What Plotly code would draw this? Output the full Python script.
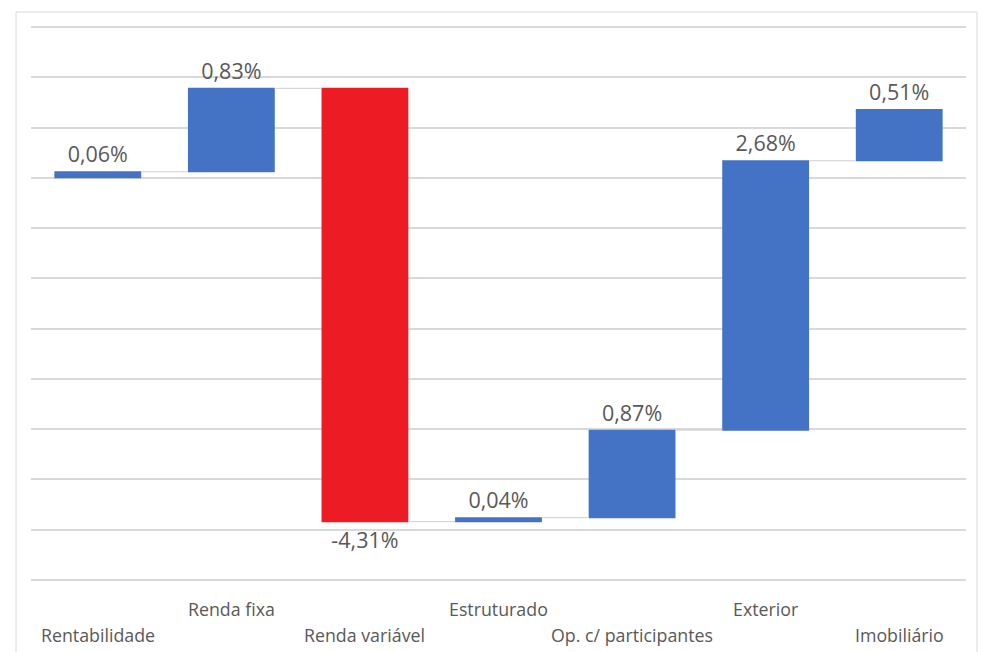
import plotly.graph_objects as go

categories = ["Rentabilidade", "Renda fixa", "Renda variável", "Estruturado",
              "Op. c/ participantes", "Exterior", "Imobiliário"]
values = [0.06, 0.83, -4.31, 0.04, 0.87, 2.68, 0.51]
labels = [f"{v:.2f}".replace(".", ",") + "%" for v in values]

BLUE = "#4472C4"
RED = "#ED1C24"
TXT = "#595959"
GRID = "#D9D9D9"

fig = go.Figure(go.Waterfall(
    x=categories,
    y=values,
    measure=["relative"] * len(values),
    text=labels,
    textposition="outside",
    constraintext="none",
    cliponaxis=False,
    textfont=dict(family="Open Sans", size=21.5, color=TXT),
    increasing=dict(marker=dict(color=BLUE)),
    decreasing=dict(marker=dict(color=RED)),
    connector=dict(mode="between", line=dict(color="#D0D0D0", width=1)),
    showlegend=False,
))

annotations = []
for i, c in enumerate(categories):
    annotations.append(dict(
        x=c, xref="x", yref="paper",
        y=-0.0956 if i % 2 == 0 else -0.048,
        text=c, showarrow=False, yanchor="middle", xanchor="center",
        font=dict(family="Open Sans", size=17.8, color=TXT),
    ))

fig.update_layout(
    width=987, height=652,
    margin=dict(l=31, r=21, t=25, b=70),
    paper_bgcolor="white", plot_bgcolor="white",
    waterfallgap=0.35,
    xaxis=dict(showticklabels=False, showgrid=False, zeroline=False, showline=False,
               ticks=""),
    yaxis=dict(range=[-4.02, 1.52], dtick=0.5, tick0=0, showticklabels=False,
               showgrid=True, gridcolor=GRID, gridwidth=1.5, zeroline=False,
               showline=False, ticks=""),
    annotations=annotations,
    shapes=[dict(type="rect", xref="paper", yref="paper",
                 x0=-0.016, x1=1.0118, y0=-0.2, y1=1.0233,
                 line=dict(color="#D9D9D9", width=1), fillcolor="rgba(0,0,0,0)",
                 layer="below")],
)

fig.write_html("out.html")
